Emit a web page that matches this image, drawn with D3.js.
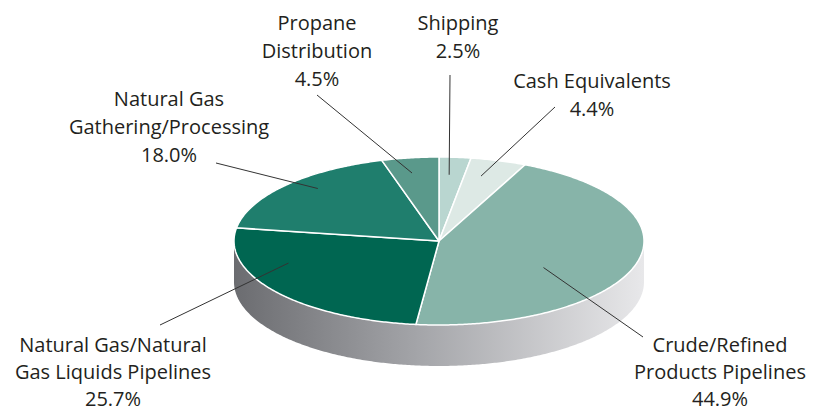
<!DOCTYPE html>
<html>
<head>
<meta charset="utf-8">
<script src="https://cdn.jsdelivr.net/npm/d3@7"></script>
<style>
  body { margin: 0; background: #fff; }
  text { font-family: "Open Sans", "Noto Sans", sans-serif; fill: #231f20; }
</style>
</head>
<body>
<div id="chart"></div>
<script>
// values, clockwise from 12 o'clock
let categories = ["Shipping", "Cash Equivalents", "Crude/Refined Products Pipelines",
  "Natural Gas/Natural Gas Liquids Pipelines", "Natural Gas Gathering/Processing", "Propane Distribution"];
let shares = [2.5, 4.4, 44.9, 25.7, 18.0, 4.5];
let labelLines = [
  ["Shipping"],
  ["Cash Equivalents"],
  ["Crude/Refined", "Products Pipelines"],
  ["Natural Gas/Natural", "Gas Liquids Pipelines"],
  ["Natural Gas", "Gathering/Processing"],
  ["Propane", "Distribution"]
];
let sliceColors = ["#b9d6d0", "#dde9e5", "#87b4a9", "#006651", "#1f7e6d", "#5a998b"];

let svgWidth = 817;
let svgHeight = 411;
let cx = 439, cy = 241, rx = 205, ry = 84, depth = 41;

// label placement: text center x, first baseline, line step, leader outer end, anchor inside slice (t along slice, r radial)
let labelLayout = [
  {x: 458, y: 30, step: 28, end: [450, 75], t: 0.4, r: 0.79},
  {x: 592, y: 88, step: 28, end: [555, 107], t: 0.37, r: 0.8},
  {x: 720, y: 352, step: 27, end: [643, 337], t: 0.6, r: 0.6},
  {x: 113, y: 352, step: 27, end: [160, 325], t: 0.69, r: 0.78},
  {x: 169, y: 106, step: 28, end: [216, 163], t: 0.58, r: 0.86},
  {x: 317, y: 30, step: 28, end: [317, 95], t: 0.43, r: 0.82}
];

let svg = d3.select("#chart").append("svg")
  .attr("width", svgWidth)
  .attr("height", svgHeight);

let defs = svg.append("defs");
let grad = defs.append("linearGradient")
  .attr("id", "wallGrad")
  .attr("x1", "0%").attr("x2", "100%").attr("y1", "0%").attr("y2", "0%");
grad.append("stop").attr("offset", "0%").attr("stop-color", "#6b6c70");
grad.append("stop").attr("offset", "45%").attr("stop-color", "#a4a5a9");
grad.append("stop").attr("offset", "100%").attr("stop-color", "#e8e8ea");

// projection of an angle (0 = top, clockwise) onto the tilted disc
function project(a, r, dy) {
  return [cx + rx * r * Math.sin(a), cy - ry * r * Math.cos(a) + (dy || 0)];
}

let line = d3.line();

function arcPoints(a0, a1, r, dy) {
  let n = Math.max(2, Math.ceil((a1 - a0) / 0.01));
  return d3.range(n + 1).map(i => project(a0 + (a1 - a0) * i / n, r, dy));
}

// side wall (front half)
let wallTop = arcPoints(Math.PI / 2, Math.PI * 1.5, 1, 0);
let wallBottom = arcPoints(Math.PI / 2, Math.PI * 1.5, 1, depth).reverse();
svg.append("path")
  .attr("d", line(wallTop.concat(wallBottom)) + "Z")
  .attr("fill", "url(#wallGrad)");

// top slices
let pie = d3.pie().sort(null).value(d => d)(shares);

svg.append("g").selectAll("path")
  .data(pie)
  .enter().append("path")
  .attr("d", d => line([[cx, cy]].concat(arcPoints(d.startAngle, d.endAngle, 1, 0))) + "Z")
  .attr("fill", (d, i) => sliceColors[i])
  .attr("stroke", "#fff")
  .attr("stroke-width", 1.5)
  .attr("stroke-linejoin", "round");

// leader lines
svg.append("g").selectAll("line")
  .data(pie)
  .enter().append("line")
  .each(function(d, i) {
    let L = labelLayout[i];
    let a = d.startAngle + (d.endAngle - d.startAngle) * L.t;
    let p = project(a, L.r, 0);
    d3.select(this)
      .attr("x1", L.end[0]).attr("y1", L.end[1])
      .attr("x2", p[0]).attr("y2", p[1]);
  })
  .attr("stroke", "#333")
  .attr("stroke-width", 1);

// labels
let labels = svg.append("g").selectAll("text")
  .data(pie)
  .enter().append("text")
  .attr("text-anchor", "middle")
  .attr("font-size", 20)
  .attr("x", (d, i) => labelLayout[i].x)
  .attr("y", (d, i) => labelLayout[i].y);

labels.each(function(d, i) {
  let t = d3.select(this);
  let L = labelLayout[i];
  let rows = labelLines[i].concat([d3.format(".1f")(shares[i]) + "%"]);
  rows.forEach((row, j) => {
    t.append("tspan")
      .attr("x", L.x)
      .attr("y", L.y + j * L.step)
      .text(row);
  });
});
</script>
</body>
</html>
